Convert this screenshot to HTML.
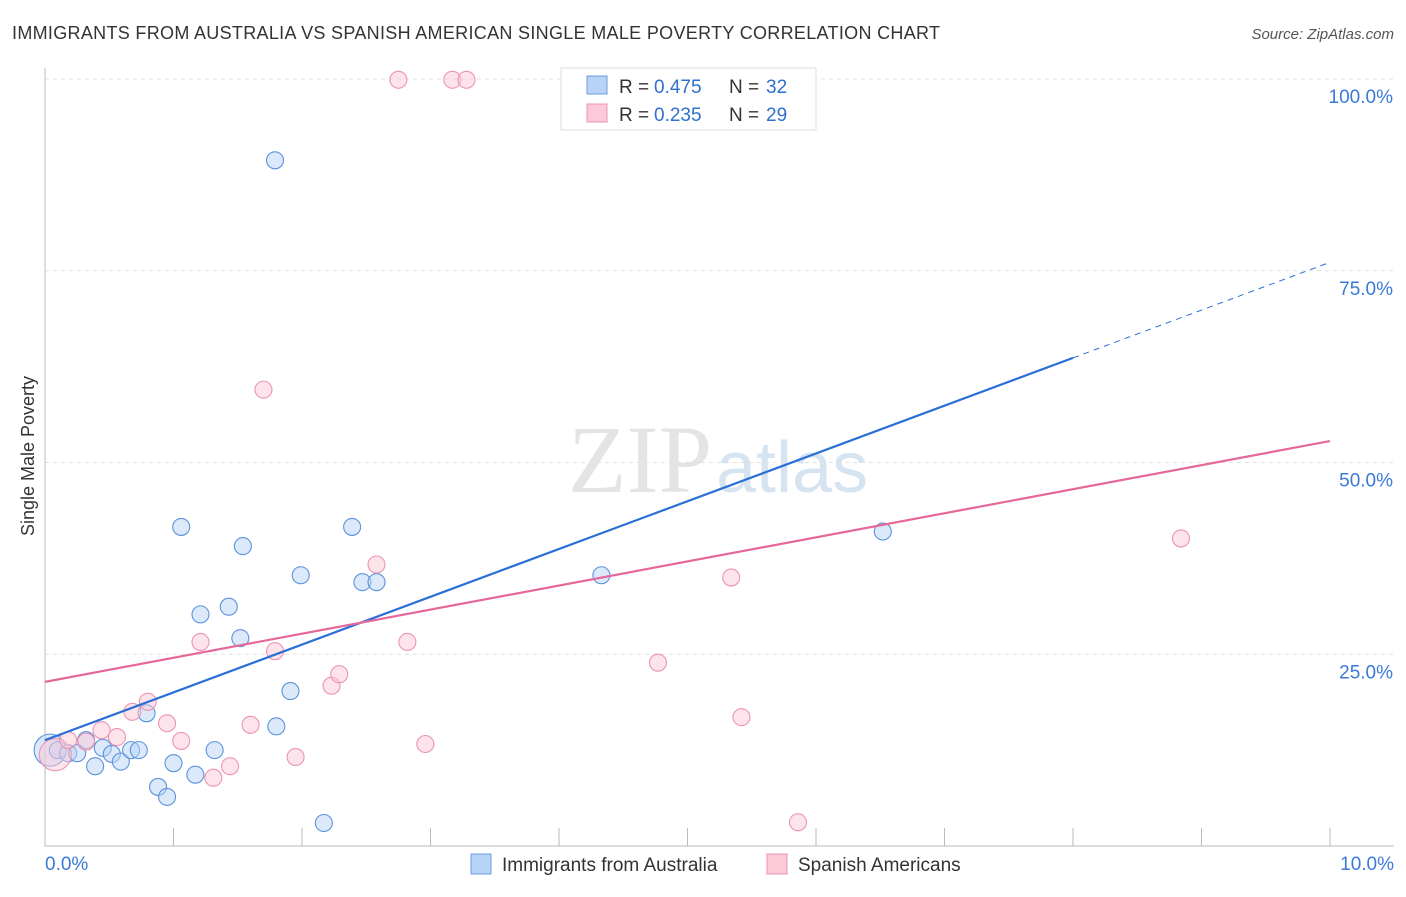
<!DOCTYPE html>
<html><head><meta charset="utf-8"><style>
body{margin:0;background:#fff;font-family:"Liberation Sans",sans-serif;}
</style></head><body>
<svg width="1406" height="892" xmlns="http://www.w3.org/2000/svg" id="svg">
<text x="12" y="39" font-size="18" fill="#333" textLength="928">IMMIGRANTS FROM AUSTRALIA VS SPANISH AMERICAN SINGLE MALE POVERTY CORRELATION CHART</text>
<text x="1394" y="39" font-size="15" fill="#555" font-style="italic" text-anchor="end">Source: ZipAtlas.com</text>
<text x="712" y="492" font-size="96" fill="#e4e4e4" text-anchor="end" font-family="Liberation Serif">ZIP</text>
<text x="716" y="492" font-size="72" fill="#d6e4f2">atlas</text>
<text transform="translate(34,456) rotate(-90)" font-size="18" fill="#333" text-anchor="middle">Single Male Poverty</text>
<g id="grid"></g><g id="pts"></g><g id="lines"></g>
<g>
<rect x="561" y="68" width="255" height="62" fill="#fff" stroke="#ddd"/>
<rect x="587" y="76" width="20" height="18" fill="#b8d3f5" stroke="#6a9ee0"/>
<rect x="587" y="104" width="20" height="18" fill="#fbc9d8" stroke="#ec94b1"/>
<text x="619" y="93" font-size="19" fill="#333">R =</text><text x="654" y="93" font-size="19" fill="#2f6fd0">0.475</text>
<text x="729" y="93" font-size="19" fill="#333">N =</text><text x="766" y="93" font-size="19" fill="#2f6fd0">32</text>
<text x="619" y="121" font-size="19" fill="#333">R =</text><text x="654" y="121" font-size="19" fill="#2f6fd0">0.235</text>
<text x="729" y="121" font-size="19" fill="#333">N =</text><text x="766" y="121" font-size="19" fill="#2f6fd0">29</text>
</g>
<g>
<rect x="471" y="854" width="20" height="20" fill="#b8d3f5" stroke="#6a9ee0"/>
<text x="502" y="871" font-size="19" fill="#333">Immigrants from Australia</text>
<rect x="767" y="854" width="20" height="20" fill="#fbc9d8" stroke="#ec94b1"/>
<text x="798" y="871" font-size="19" fill="#333">Spanish Americans</text>
</g>
</svg>
<script>
const blueX=[0.04,0.10,0.18,0.25,0.32,0.39,0.45,0.52,0.59,0.67,0.73,0.79,0.88,0.95,1.00,1.06,1.17,1.21,1.32,1.43,1.52,1.54,1.79,1.80,1.91,1.99,2.17,2.39,2.47,2.58,4.33,6.52];
const blueY=[12.5,12.5,12.1,12.1,13.8,10.4,12.8,12.0,11.0,12.5,12.5,17.3,7.7,6.4,10.8,41.6,9.3,30.2,12.5,31.2,27.1,39.1,89.4,15.6,20.2,35.3,3.0,41.6,34.4,34.4,35.3,41.0];
const pinkX=[0.08,0.18,0.32,0.44,0.56,0.68,0.80,0.95,1.06,1.21,1.31,1.44,1.60,1.70,1.79,1.95,2.23,2.29,2.58,2.75,2.82,2.96,3.17,3.28,4.77,5.34,5.42,5.86,8.84];
const pinkY=[11.9,13.8,13.6,15.1,14.2,17.5,18.8,16.0,13.7,26.6,8.9,10.4,15.8,59.5,25.4,11.6,20.9,22.4,36.7,99.9,26.6,13.3,99.9,99.9,23.9,35.0,16.8,3.1,40.1];
const yTicks=[25,50,75,100];
const yTickLabels=["25.0%","50.0%","75.0%","100.0%"];
const xTicks=[0,1,2,3,4,5,6,7,8,9,10];
const blueTrend=[13.8,76.1]; const blueSolidEnd=8.0;
const pinkTrend=[21.4,52.8];
const NS="http://www.w3.org/2000/svg";
const X=v=>45+v*128.5, Y=v=>846-v*7.67;
function mk(t,a,p){const e=document.createElementNS(NS,t);for(const k in a)e.setAttribute(k,a[k]);p.appendChild(e);return e;}
const grid=document.getElementById('grid');
yTicks.forEach((t,i)=>{
 const l=mk('line',{x1:45,x2:1394,y1:Y(t),y2:Y(t),stroke:'#e2e2e2','stroke-dasharray':'4,4'},grid);
 
 
 const tx=mk('text',{x:1393,y:Y(t)+24,'font-size':19,fill:'#3b7ad8','text-anchor':'end'},grid);
 tx.textContent=yTickLabels[i];
 
 
});
const ax=mk('path',{d:'M45,68V846H1394',fill:'none',stroke:'#bbb'},grid);


xTicks.forEach(t=>{if(t>0){const l=mk('line',{x1:X(t),x2:X(t),y1:828,y2:846,stroke:'#bbb'},grid);
 
 }});
[[0,'0.0%','start',45],[10,'10.0%','end',1394]].forEach(d=>{const tx=mk('text',{x:d[3],y:870,'font-size':19,fill:'#3b7ad8','text-anchor':d[2]},grid);tx.textContent=d[1];
 
 });
const pts=document.getElementById('pts');
function dots(xs,ys,f,s,name){xs.forEach((x,i)=>{const big=i===0;const c=mk('circle',{cx:X(x),cy:Y(ys[i]),r:big?16:8.5,fill:f,'fill-opacity':0.5,stroke:s,'stroke-width':1.1},pts);
 
 });}
dots(blueX,blueY,'#b8d3f5','#5b93dc','point-australia');
dots(pinkX,pinkY,'#fbc9d8','#ec94b1','point-spanish-american');
const lines=document.getElementById('lines');
const f=(a,x)=>a[0]+(a[1]-a[0])*x/10;
let l1=mk('line',{x1:X(0),y1:Y(blueTrend[0]),x2:X(blueSolidEnd),y2:Y(f(blueTrend,blueSolidEnd)),stroke:'#2a6fd6','stroke-width':2.2},lines);


let l2=mk('line',{x1:X(blueSolidEnd),y1:Y(f(blueTrend,blueSolidEnd)),x2:X(10),y2:Y(blueTrend[1]),stroke:'#2a6fd6','stroke-width':1,'stroke-dasharray':'6,5'},lines);


let l3=mk('line',{x1:X(0),y1:Y(pinkTrend[0]),x2:X(10),y2:Y(pinkTrend[1]),stroke:'#e4699a','stroke-width':2.2},lines);


</script>
</body></html>
